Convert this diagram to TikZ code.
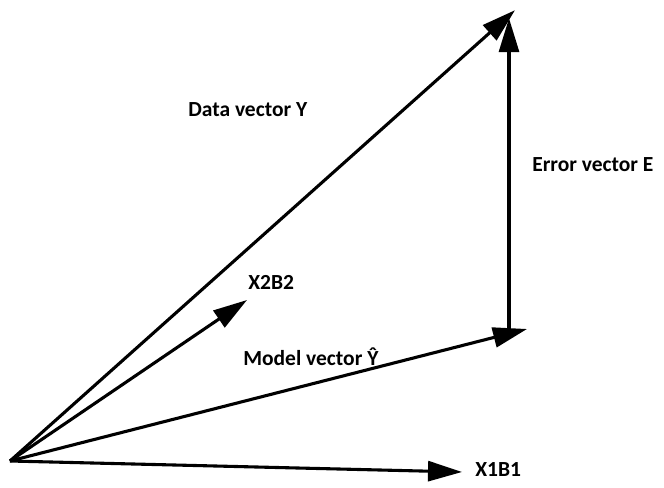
\documentclass[tikz,border=0pt]{standalone}
\usepackage{fontspec}
\setmainfont{Carlito}
\usepackage{tikz}
\usetikzlibrary{arrows.meta}

\begin{document}
\begin{tikzpicture}[
  every node/.style={font=\bfseries\fontsize{15.3}{18}\selectfont, anchor=west, inner sep=0pt},
  vec/.style={-{Triangle[length=0.85cm, width=0.5cm]}, line width=2.2pt, black},
]
\useasboundingbox (0,0) rectangle (16.6,12.175);

% Points
\coordinate (o) at (0.25, 0.65);
\coordinate (ytip) at (12.875, 11.92);
\coordinate (mtip) at (13.175, 3.95);
\coordinate (ebase) at (12.725, 3.85);
\coordinate (etip) at (12.725, 11.72);
\coordinate (x2tip) at (6.175, 4.675);
\coordinate (x1tip) at (11.55, 0.375);

% Vectors
\draw[vec] (o) -- (ytip);
\draw[vec] (o) -- (mtip);
\draw[vec] (ebase) -- (etip);
\draw[vec] (o) -- (x2tip);
\draw[vec] (o) -- (x1tip);

% Labels
\node (ylab) at (4.7, 9.425) {Data vector Y};
\node (elab) at (13.3, 8.05) {Error vector E};
\node (x2lab) at (6.2, 5.125) {X2B2};
\node (mlab) at (6.075, 3.25) {Model vector Ŷ};
\node (x1lab) at (11.875, 0.425) {X1B1};

\end{tikzpicture}
\end{document}
